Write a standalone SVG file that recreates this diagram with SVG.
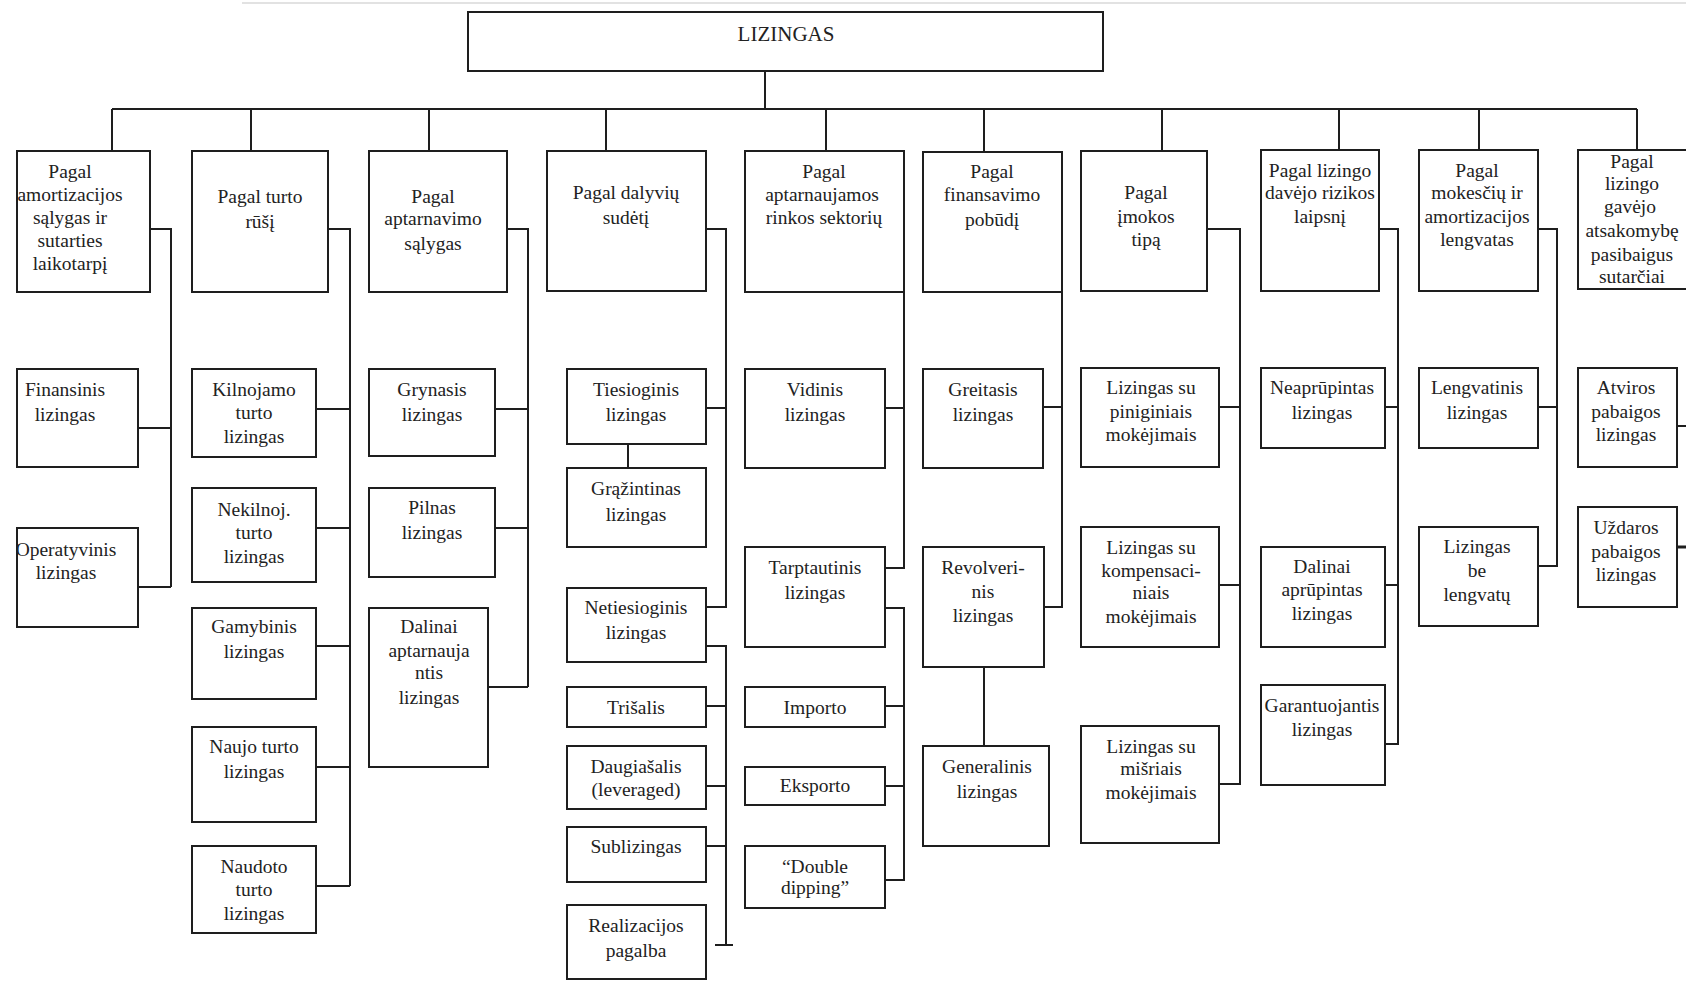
<svg xmlns="http://www.w3.org/2000/svg" width="1686" height="981" viewBox="0 0 1686 981">
<style>
.b{fill:#fff;stroke:#1e1e1e;stroke-width:2}
.t{font-family:"Liberation Serif","Times New Roman",serif;font-size:19.5px;fill:#222;text-anchor:middle}
.r{font-size:21px}
.c{fill:none;stroke:#1e1e1e;stroke-width:2}
</style>
<rect width="1686" height="981" fill="#fff"/>
<line x1="242" y1="3" x2="1686" y2="3" stroke="#e2e2e2" stroke-width="2"/>
<g id="connectors" class="c">
<path d="M765 71V109M112 109H1637M112 109V151M251 109V151M429 109V151M606 109V151M826 109V151M984 109V151M1162 109V151M1339 109V150M1479 109V150M1637 109V150"/>
<path d="M150 229H171V587M131 428H171M131 587H171"/>
<path d="M328 229H350V886M312 409H350M312 528H350M312 646H350M312 767H350M312 886H350"/>
<path d="M507 229H528V687M487 409H528M487 528H528M488 687H528"/>
<path d="M686 229H726V607H706M706 408H726M628 444V468M706 646H726V945M715 945H733M706 706H726M706 786H726M706 846H726"/>
<path d="M883 229H904V568H885M885 408H904M885 608H904V880H885M885 706H904M885 786H904"/>
<path d="M1043 229H1062V607H1044M1043 407H1062M984 667V746"/>
<path d="M1202 229H1240V784H1219M1219 407H1240M1219 585H1240"/>
<path d="M1379 229H1398V744H1379M1379 407H1398M1379 585H1398"/>
<path d="M1538 229H1557V566H1538M1538 407H1557"/>
<path d="M1676 207H1686M1677 426H1686"/>
<path d="M1677 547H1686" stroke-width="3"/>
</g>
<g id="root"><rect class="b" x="468" y="12" width="635" height="59"/><text class="t r" x="786" y="41">LIZINGAS</text></g>
<g id="cat1"><rect class="b" x="17" y="151" width="133" height="141"/><text class="t" x="70"><tspan x="70" y="178">Pagal</tspan><tspan x="70" y="201">amortizacijos</tspan><tspan x="70" y="224">sąlygas ir</tspan><tspan x="70" y="247">sutarties</tspan><tspan x="70" y="270">laikotarpį</tspan></text></g>
<g id="finansinis"><rect class="b" x="17" y="369" width="121" height="98"/><text class="t"><tspan x="65" y="396">Finansinis</tspan><tspan x="65" y="421">lizingas</tspan></text></g>
<g id="operatyvinis"><rect class="b" x="17" y="528" width="121" height="99"/><text class="t"><tspan x="66" y="556">Operatyvinis</tspan><tspan x="66" y="579">lizingas</tspan></text></g>
<g id="cat2"><rect class="b" x="192" y="151" width="136" height="141"/><text class="t"><tspan x="260" y="203">Pagal turto</tspan><tspan x="260" y="228">rūšį</tspan></text></g>
<g id="kilnojamo"><rect class="b" x="192" y="369" width="124" height="88"/><text class="t"><tspan x="254" y="396">Kilnojamo</tspan><tspan x="254" y="419">turto</tspan><tspan x="254" y="443">lizingas</tspan></text></g>
<g id="nekilnoj"><rect class="b" x="192" y="488" width="124" height="94"/><text class="t"><tspan x="254" y="516">Nekilnoj.</tspan><tspan x="254" y="539">turto</tspan><tspan x="254" y="563">lizingas</tspan></text></g>
<g id="gamybinis"><rect class="b" x="192" y="608" width="124" height="91"/><text class="t"><tspan x="254" y="633">Gamybinis</tspan><tspan x="254" y="658">lizingas</tspan></text></g>
<g id="naujo"><rect class="b" x="192" y="727" width="124" height="95"/><text class="t"><tspan x="254" y="753">Naujo turto</tspan><tspan x="254" y="778">lizingas</tspan></text></g>
<g id="naudoto"><rect class="b" x="192" y="846" width="124" height="87"/><text class="t"><tspan x="254" y="873">Naudoto</tspan><tspan x="254" y="896">turto</tspan><tspan x="254" y="920">lizingas</tspan></text></g>
<g id="cat3"><rect class="b" x="369" y="151" width="138" height="141"/><text class="t"><tspan x="433" y="203">Pagal</tspan><tspan x="433" y="225">aptarnavimo</tspan><tspan x="433" y="250">sąlygas</tspan></text></g>
<g id="grynasis"><rect class="b" x="369" y="369" width="126" height="87"/><text class="t"><tspan x="432" y="396">Grynasis</tspan><tspan x="432" y="421">lizingas</tspan></text></g>
<g id="pilnas"><rect class="b" x="369" y="488" width="126" height="89"/><text class="t"><tspan x="432" y="514">Pilnas</tspan><tspan x="432" y="539">lizingas</tspan></text></g>
<g id="dalinai-apt"><rect class="b" x="369" y="608" width="119" height="159"/><text class="t"><tspan x="429" y="633">Dalinai</tspan><tspan x="429" y="657">aptarnauja</tspan><tspan x="429" y="679">ntis</tspan><tspan x="429" y="704">lizingas</tspan></text></g>
<g id="cat4"><rect class="b" x="547" y="151" width="159" height="140"/><text class="t"><tspan x="626" y="199">Pagal dalyvių</tspan><tspan x="626" y="224">sudėtį</tspan></text></g>
<g id="tiesioginis"><rect class="b" x="567" y="369" width="139" height="75"/><text class="t"><tspan x="636" y="396">Tiesioginis</tspan><tspan x="636" y="421">lizingas</tspan></text></g>
<g id="grazintinas"><rect class="b" x="567" y="468" width="139" height="79"/><text class="t"><tspan x="636" y="495">Grąžintinas</tspan><tspan x="636" y="521">lizingas</tspan></text></g>
<g id="netiesioginis"><rect class="b" x="567" y="588" width="139" height="74"/><text class="t"><tspan x="636" y="614">Netiesioginis</tspan><tspan x="636" y="639">lizingas</tspan></text></g>
<g id="trisalis"><rect class="b" x="567" y="687" width="139" height="40"/><text class="t" x="636" y="714">Trišalis</text></g>
<g id="daugiasalis"><rect class="b" x="567" y="746" width="139" height="63"/><text class="t"><tspan x="636" y="773">Daugiašalis</tspan><tspan x="636" y="796">(leveraged)</tspan></text></g>
<g id="sublizingas"><rect class="b" x="567" y="827" width="139" height="55"/><text class="t" x="636" y="853">Sublizingas</text></g>
<g id="realizacijos"><rect class="b" x="567" y="905" width="139" height="74"/><text class="t"><tspan x="636" y="932">Realizacijos</tspan><tspan x="636" y="957">pagalba</tspan></text></g>
<g id="cat5"><rect class="b" x="745" y="151" width="159" height="141"/><text class="t"><tspan x="824" y="178">Pagal</tspan><tspan x="822" y="201">aptarnaujamos</tspan><tspan x="824" y="224">rinkos sektorių</tspan></text></g>
<g id="vidinis"><rect class="b" x="745" y="369" width="140" height="99"/><text class="t"><tspan x="815" y="396">Vidinis</tspan><tspan x="815" y="421">lizingas</tspan></text></g>
<g id="tarptautinis"><rect class="b" x="745" y="547" width="140" height="100"/><text class="t"><tspan x="815" y="574">Tarptautinis</tspan><tspan x="815" y="599">lizingas</tspan></text></g>
<g id="importo"><rect class="b" x="745" y="687" width="140" height="40"/><text class="t" x="815" y="714">Importo</text></g>
<g id="eksporto"><rect class="b" x="745" y="767" width="140" height="38"/><text class="t" x="815" y="792">Eksporto</text></g>
<g id="double"><rect class="b" x="745" y="846" width="140" height="62"/><text class="t"><tspan x="815" y="873">“Double</tspan><tspan x="815" y="894">dipping”</tspan></text></g>
<g id="cat6"><rect class="b" x="923" y="152" width="139" height="140"/><text class="t"><tspan x="992" y="178">Pagal</tspan><tspan x="992" y="201">finansavimo</tspan><tspan x="992" y="226">pobūdį</tspan></text></g>
<g id="greitasis"><rect class="b" x="923" y="369" width="120" height="99"/><text class="t"><tspan x="983" y="396">Greitasis</tspan><tspan x="983" y="421">lizingas</tspan></text></g>
<g id="revolverinis"><rect class="b" x="923" y="547" width="121" height="120"/><text class="t"><tspan x="983" y="574">Revolveri-</tspan><tspan x="983" y="598">nis</tspan><tspan x="983" y="622">lizingas</tspan></text></g>
<g id="generalinis"><rect class="b" x="923" y="746" width="126" height="100"/><text class="t"><tspan x="987" y="773">Generalinis</tspan><tspan x="987" y="798">lizingas</tspan></text></g>
<g id="cat7"><rect class="b" x="1081" y="151" width="126" height="140"/><text class="t"><tspan x="1146" y="199">Pagal</tspan><tspan x="1146" y="223">įmokos</tspan><tspan x="1146" y="246">tipą</tspan></text></g>
<g id="piniginiais"><rect class="b" x="1081" y="368" width="138" height="99"/><text class="t"><tspan x="1151" y="394">Lizingas su</tspan><tspan x="1151" y="418">piniginiais</tspan><tspan x="1151" y="441">mokėjimais</tspan></text></g>
<g id="kompensaciniais"><rect class="b" x="1081" y="527" width="138" height="120"/><text class="t"><tspan x="1151" y="554">Lizingas su</tspan><tspan x="1151" y="577">kompensaci-</tspan><tspan x="1151" y="599">niais</tspan><tspan x="1151" y="623">mokėjimais</tspan></text></g>
<g id="misriais"><rect class="b" x="1081" y="726" width="138" height="117"/><text class="t"><tspan x="1151" y="753">Lizingas su</tspan><tspan x="1151" y="775">mišriais</tspan><tspan x="1151" y="799">mokėjimais</tspan></text></g>
<g id="cat8"><rect class="b" x="1261" y="150" width="118" height="141"/><text class="t"><tspan x="1320" y="177">Pagal lizingo</tspan><tspan x="1320" y="199">davėjo rizikos</tspan><tspan x="1320" y="223">laipsnį</tspan></text></g>
<g id="neaprupintas"><rect class="b" x="1261" y="368" width="124" height="80"/><text class="t"><tspan x="1322" y="394">Neaprūpintas</tspan><tspan x="1322" y="419">lizingas</tspan></text></g>
<g id="dalinai-apr"><rect class="b" x="1261" y="547" width="124" height="100"/><text class="t"><tspan x="1322" y="573">Dalinai</tspan><tspan x="1322" y="596">aprūpintas</tspan><tspan x="1322" y="620">lizingas</tspan></text></g>
<g id="garantuojantis"><rect class="b" x="1261" y="685" width="124" height="100"/><text class="t"><tspan x="1322" y="712">Garantuojantis</tspan><tspan x="1322" y="736">lizingas</tspan></text></g>
<g id="cat9"><rect class="b" x="1419" y="150" width="119" height="141"/><text class="t"><tspan x="1477" y="177">Pagal</tspan><tspan x="1477" y="199">mokesčių ir</tspan><tspan x="1477" y="223">amortizacijos</tspan><tspan x="1477" y="246">lengvatas</tspan></text></g>
<g id="lengvatinis"><rect class="b" x="1419" y="368" width="119" height="80"/><text class="t"><tspan x="1477" y="394">Lengvatinis</tspan><tspan x="1477" y="419">lizingas</tspan></text></g>
<g id="be-lengvatu"><rect class="b" x="1419" y="527" width="119" height="99"/><text class="t"><tspan x="1477" y="553">Lizingas</tspan><tspan x="1477" y="577">be</tspan><tspan x="1477" y="601">lengvatų</tspan></text></g>
<g id="cat10"><rect class="b" x="1578" y="150" width="130" height="139"/><text class="t"><tspan x="1632" y="168">Pagal</tspan><tspan x="1632" y="190">lizingo</tspan><tspan x="1630" y="213">gavėjo</tspan><tspan x="1632" y="237">atsakomybę</tspan><tspan x="1632" y="261">pasibaigus</tspan><tspan x="1632" y="283">sutarčiai</tspan></text></g>
<g id="atviros"><rect class="b" x="1578" y="368" width="99" height="99"/><text class="t"><tspan x="1626" y="394">Atviros</tspan><tspan x="1626" y="418">pabaigos</tspan><tspan x="1626" y="441">lizingas</tspan></text></g>
<g id="uzdaros"><rect class="b" x="1578" y="507" width="99" height="100"/><text class="t"><tspan x="1626" y="534">Uždaros</tspan><tspan x="1626" y="558">pabaigos</tspan><tspan x="1626" y="581">lizingas</tspan></text></g>
</svg>
